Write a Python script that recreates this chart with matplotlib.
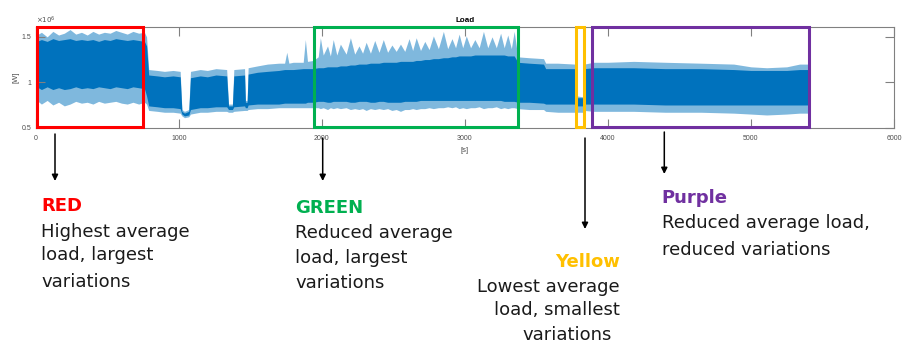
import matplotlib.pyplot as plt
from matplotlib.patches import Rectangle
from matplotlib.transforms import blended_transform_factory

W, H = 914, 343
SIGNAL = "#0072bd"
AXIS_GREY = "#808080"

# load trace (x1e6 W)
time_s = [0, 8, 40, 80, 120, 160, 200, 240, 280, 320, 360, 400, 440, 480, 520, 560, 600, 640, 680, 720, 760,
          775, 790, 850, 900, 960, 1010, 1022, 1040, 1070, 1082, 1150, 1200, 1260, 1335, 1348, 1375, 1385,
          1460, 1466, 1478, 1485, 1550, 1620, 1700, 1740, 1755, 1770, 1800, 1870, 1885, 1900, 1940,
          1975, 1990, 2010, 2040, 2060, 2080, 2105, 2130, 2170, 2200, 2230, 2260, 2285, 2310, 2340, 2370,
          2400, 2430, 2460, 2490, 2520, 2550, 2580, 2610, 2635, 2660, 2690, 2720, 2750, 2780, 2815, 2850,
          2880, 2910, 2935, 2960, 2985, 3010, 3040, 3070, 3100, 3130, 3160, 3190, 3220, 3250, 3275, 3300,
          3325, 3345,
          3370, 3450, 3550, 3565, 3650, 3770, 3780, 3825, 3835, 3900, 4000, 4180, 4400, 4650, 4880, 5000,
          5110, 5250, 5340, 5400]
peak_hi = [1.30, 1.52, 1.55, 1.50, 1.56, 1.52, 1.54, 1.58, 1.53, 1.55, 1.52, 1.56, 1.53, 1.55, 1.54, 1.57,
           1.55, 1.53, 1.56, 1.54, 1.55,
           1.50, 1.14, 1.13, 1.12, 1.13, 1.12, 0.70, 0.68, 0.70, 1.12, 1.14, 1.13, 1.15, 1.14, 0.76, 0.76, 1.14,
           1.15, 0.80, 0.80, 1.16, 1.18, 1.20, 1.21, 1.21, 1.33, 1.21, 1.22, 1.22, 1.47, 1.23, 1.24,
           1.28, 1.49, 1.30, 1.40, 1.29, 1.47, 1.30, 1.42, 1.31, 1.49, 1.31, 1.40, 1.32, 1.44, 1.32, 1.46,
           1.33, 1.47, 1.33, 1.41, 1.34, 1.42, 1.34, 1.48, 1.35, 1.49, 1.35, 1.45, 1.36, 1.51, 1.37, 1.56,
           1.37, 1.48, 1.38, 1.53, 1.38, 1.51, 1.38, 1.47, 1.38, 1.56, 1.38, 1.50, 1.38, 1.54, 1.38, 1.52,
           1.37, 1.56,
           1.28, 1.27, 1.26, 1.21, 1.21, 1.20, 0.85, 0.84, 1.20, 1.22, 1.22, 1.23, 1.22, 1.21, 1.20, 1.17,
           1.16, 1.17, 1.20, 1.20]
core_hi = [1.25, 1.45, 1.47, 1.45, 1.48, 1.46, 1.47, 1.48, 1.46, 1.47, 1.46, 1.47, 1.45, 1.47, 1.46, 1.48,
           1.47, 1.46, 1.47, 1.46, 1.45,
           1.40, 1.08, 1.07, 1.06, 1.07, 1.06, 0.68, 0.66, 0.68, 1.05, 1.07, 1.06, 1.08, 1.07, 0.74, 0.74, 1.07,
           1.08, 0.78, 0.78, 1.09, 1.11, 1.12, 1.13, 1.14, 1.14, 1.14, 1.14, 1.15, 1.15, 1.15, 1.15,
           1.16, 1.16, 1.16, 1.17, 1.17, 1.17, 1.17, 1.18, 1.18, 1.19, 1.19, 1.20, 1.20, 1.20, 1.21, 1.21,
           1.21, 1.22, 1.22, 1.22, 1.22, 1.23, 1.23, 1.23, 1.23, 1.24, 1.24, 1.25, 1.25, 1.26, 1.26, 1.27,
           1.27, 1.28, 1.28, 1.29, 1.29, 1.29, 1.29, 1.30, 1.30, 1.30, 1.30, 1.30, 1.30, 1.30, 1.30, 1.29,
           1.29, 1.29,
           1.22, 1.21, 1.20, 1.15, 1.15, 1.15, 0.83, 0.83, 1.15, 1.16, 1.16, 1.16, 1.15, 1.15, 1.14, 1.13,
           1.13, 1.13, 1.14, 1.14]
core_lo = [1.02, 0.95, 0.92, 0.95, 0.92, 0.94, 0.92, 0.93, 0.95, 0.93, 0.94, 0.93, 0.95, 0.94, 0.93, 0.95,
           0.94, 0.93, 0.95, 0.94, 0.93,
           0.85, 0.74, 0.73, 0.72, 0.72, 0.71, 0.65, 0.63, 0.64, 0.70, 0.72, 0.72, 0.73, 0.73, 0.70, 0.70, 0.73,
           0.74, 0.72, 0.72, 0.75, 0.76, 0.76, 0.76, 0.77, 0.77, 0.77, 0.77, 0.77, 0.77, 0.78, 0.78,
           0.79, 0.79, 0.79, 0.78, 0.78, 0.79, 0.79, 0.79, 0.79, 0.78, 0.78, 0.79, 0.79, 0.79, 0.78, 0.78,
           0.79, 0.79, 0.78, 0.78, 0.78, 0.78, 0.79, 0.79, 0.79, 0.79, 0.80, 0.80, 0.80, 0.80, 0.80, 0.80,
           0.80, 0.80, 0.80, 0.80, 0.80, 0.80, 0.80, 0.80, 0.80, 0.80, 0.80, 0.80, 0.80, 0.80, 0.79, 0.79,
           0.79, 0.79,
           0.78, 0.78, 0.77, 0.76, 0.76, 0.76, 0.74, 0.74, 0.76, 0.76, 0.76, 0.76, 0.75, 0.75, 0.75, 0.75,
           0.75, 0.75, 0.75, 0.75]
peak_lo = [1.00, 0.80, 0.76, 0.80, 0.75, 0.78, 0.74, 0.76, 0.79, 0.77, 0.78, 0.76, 0.79, 0.77, 0.78, 0.79,
           0.77, 0.76, 0.78, 0.76, 0.78,
           0.76, 0.69, 0.68, 0.67, 0.67, 0.66, 0.63, 0.61, 0.62, 0.65, 0.67, 0.67, 0.68, 0.68, 0.67, 0.67, 0.68,
           0.69, 0.69, 0.69, 0.70, 0.71, 0.71, 0.72, 0.72, 0.72, 0.72, 0.72, 0.72, 0.72, 0.72, 0.72,
           0.72, 0.71, 0.72, 0.70, 0.72, 0.71, 0.72, 0.71, 0.72, 0.70, 0.71, 0.70, 0.71, 0.69, 0.71, 0.70,
           0.71, 0.70, 0.71, 0.69, 0.70, 0.68, 0.70, 0.70, 0.71, 0.70, 0.71, 0.71, 0.72, 0.71, 0.72, 0.72,
           0.73, 0.72, 0.73, 0.71, 0.72, 0.71, 0.72, 0.72, 0.73, 0.71, 0.72, 0.72, 0.73, 0.71, 0.72, 0.71,
           0.72, 0.72,
           0.71, 0.70, 0.70, 0.68, 0.67, 0.67, 0.67, 0.67, 0.69, 0.68, 0.68, 0.68, 0.67, 0.67, 0.66, 0.65,
           0.64, 0.65, 0.66, 0.66]

x_ticks = [0, 1000, 2000, 3000, 4000, 5000, 6000]
y_ticks = [0.5, 1, 1.5]
y_tick_labels = ["0.5", "1", "1.5"]

# highlighted windows
box_names = ["RED", "GREEN", "Yellow", "Purple"]
box_colors = ["#ff0000", "#00b050", "#ffc000", "#7030a0"]
box_start_s = [7, 1946, 3774, 3892]
box_end_s = [752, 3370, 3834, 5405]

note_lines = [
    ["Highest average", "load, largest", "variations"],
    ["Reduced average", "load, largest", "variations"],
    ["Lowest average", "load, smallest", "variations"],
    ["Reduced average load,", "reduced variations"],
]


def fig_xy(px, py):
    return px / W, 1 - py / H


plt.rcParams.update({"font.family": "Liberation Sans"})
fig = plt.figure(figsize=(W / 100, H / 100), dpi=100)
ax = fig.add_axes([35.7 / W, 1 - 127.7 / H, (894 - 35.7) / W, (127.7 - 27.3) / H])

ax.fill_between(time_s, peak_lo, peak_hi, color=SIGNAL, alpha=0.5, linewidth=0)
ax.fill_between(time_s, core_lo, core_hi, color=SIGNAL, linewidth=0)

ax.set_xlim(0, 6000)
ax.set_ylim(0.5, 1.605)
ax.set_xticks(x_ticks)
ax.set_xticklabels([str(t) for t in x_ticks])
ax.set_yticks(y_ticks)
ax.set_yticklabels(y_tick_labels)
ax.tick_params(direction="in", length=6.5, width=0.8, color=AXIS_GREY, labelcolor="#4d4d4d",
               labelsize=5, top=True, right=True, pad=3)
ax.tick_params(axis="x", pad=5)
for spine in ax.spines.values():
    spine.set_color(AXIS_GREY)
    spine.set_linewidth(0.8)
ax.set_title("Load", fontsize=5.8, fontweight="bold", pad=4)
ax.set_xlabel("[s]", fontsize=5.5, color="#4d4d4d", labelpad=4)
ax.set_ylabel("[W]", fontsize=5.5, color="#4d4d4d", labelpad=2)
ax.text(0, 1.01, r"$\times10^6$", transform=ax.transAxes, fontsize=5, color="#4d4d4d", va="bottom")

trans = blended_transform_factory(ax.transData, ax.transAxes)
for start, end, color in zip(box_start_s, box_end_s, box_colors):
    ax.add_patch(Rectangle((start, 0.01), end - start, 0.995, transform=trans, fill=False,
                           edgecolor=color, linewidth=2.2, clip_on=False, zorder=5))

# arrows from each box down to its note (figure pixels)
arrow_x = [55, 322.7, 585, 664.3]
arrow_top = [134, 138, 138, 132]
arrow_tip = [181, 181, 229, 174]
for x, top, tip in zip(arrow_x, arrow_top, arrow_tip):
    ax.annotate("", xy=(x, H - tip), xytext=(x, H - top), xycoords="figure pixels",
                textcoords="figure pixels",
                arrowprops=dict(arrowstyle="-|>", color="black", lw=1.1, mutation_scale=9,
                                shrinkA=0, shrinkB=0))

NOTE_FONT = "DejaVu Sans"
NOTE_SIZE = 13
note_x = [41, 295, 620, 661.7]
note_ha = ["left", "left", "right", "left"]
head_base = [211, 213.3, 266.7, 202.7]
line_base = [[236.7, 260, 286.7], [238.3, 263.3, 288.3], [291.7, 315, 339.5], [228.3, 255]]
line_x = [[41, 41, 41], [295, 295, 295], [620, 620, 612], [661.7, 661.7]]

for i, name in enumerate(box_names):
    fig.text(*fig_xy(note_x[i], head_base[i]), name, color=box_colors[i], fontsize=NOTE_SIZE,
             fontweight="bold", family=NOTE_FONT, ha=note_ha[i], va="baseline")
    for line, base, lx in zip(note_lines[i], line_base[i], line_x[i]):
        fig.text(*fig_xy(lx, base), line, color="#1a1a1a", fontsize=NOTE_SIZE, family=NOTE_FONT,
                 ha=note_ha[i], va="baseline")

fig.savefig("out.png", dpi=100)
